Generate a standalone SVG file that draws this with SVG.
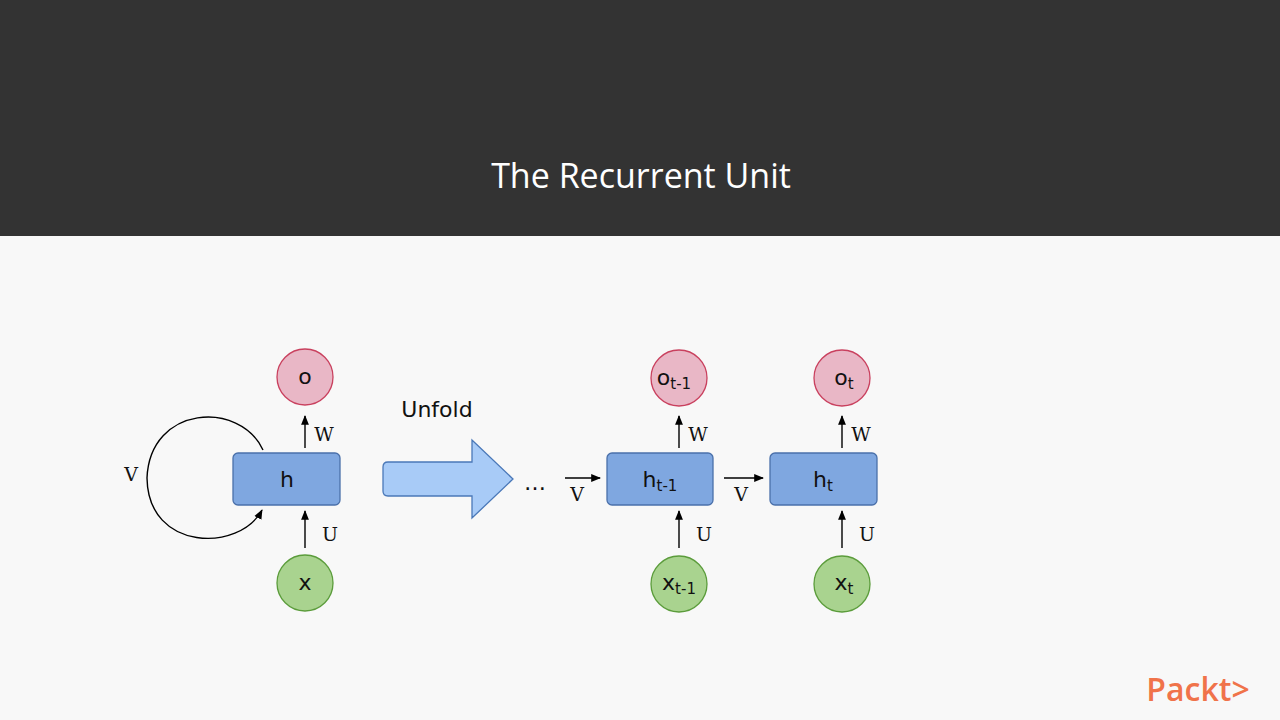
<svg xmlns="http://www.w3.org/2000/svg" width="1280" height="720" viewBox="0 0 1280 720">
<defs>
<marker id="ah" viewBox="0 0 10 10" refX="9" refY="5" markerWidth="7" markerHeight="7" orient="auto"><path d="M0,1 L10,5 L0,9 z" fill="#000"/></marker>
<style>
.o{fill:#e9b7c6;stroke:#c9405e;stroke-width:1.3}
.x{fill:#a9d38f;stroke:#5b9c3b;stroke-width:1.3}
.h{fill:#7fa7e0;stroke:#4a70aa;stroke-width:1.3}
.t{font-family:"DejaVu Sans",sans-serif;font-size:22px;fill:#111;text-anchor:middle}
.s{font-size:15px}
.l{font-family:"DejaVu Serif",serif;font-size:19px;fill:#111;text-anchor:middle}
.c{stroke:#000;stroke-width:1.4;fill:none;marker-end:url(#ah)}
</style>
</defs>
<rect width="1280" height="720" fill="#f8f8f8"/>
<rect width="1280" height="236" fill="#333333"/>
<text x="641" y="188" font-family="'Open Sans',sans-serif" font-size="34" fill="#fff" text-anchor="middle">The Recurrent Unit</text>
<g id="connectors">
<line class="c" x1="305" y1="448" x2="305" y2="416"/>
<line class="c" x1="305" y1="548" x2="305" y2="511"/>
<path class="c" d="M263,450 C240,400 150,405 147,478 C148,552 240,552 262,510"/>
<line class="c" x1="679" y1="448" x2="679" y2="416"/>
<line class="c" x1="679" y1="548" x2="679" y2="511"/>
<line class="c" x1="842" y1="448" x2="842" y2="416"/>
<line class="c" x1="842" y1="548" x2="842" y2="511"/>
<line class="c" x1="565" y1="478" x2="600" y2="478"/>
<line class="c" x1="724" y1="478" x2="763" y2="478"/>
<text class="l" x="324" y="441">W</text>
<text class="l" x="330" y="541">U</text>
<text class="l" x="131" y="481">V</text>
<text class="l" x="698" y="441">W</text>
<text class="l" x="704" y="541">U</text>
<text class="l" x="861" y="441">W</text>
<text class="l" x="867" y="541">U</text>
<text class="l" x="577" y="501">V</text>
<text class="l" x="741" y="501">V</text>
</g>
<g id="o"><circle class="o" cx="305" cy="377" r="28"/><text class="t" x="305" y="384">o</text></g>
<g id="h"><rect class="h" x="233" y="453" width="107" height="52" rx="5"/><text class="t" x="287" y="487">h</text></g>
<g id="x"><circle class="x" cx="305" cy="583" r="28"/><text class="t" x="305" y="590">x</text></g>
<g id="unfold">
<path d="M388,462 H472 V440 L513,479 L472,518 V496 H388 Q383,496 383,491 V467 Q383,462 388,462 Z" fill="#a8cbf7" stroke="#4a78b8" stroke-width="1.3"/>
<text class="t" x="437" y="417">Unfold</text>
</g>
<text class="t" x="535" y="490">…</text>
<g id="o1"><circle class="o" cx="679" cy="378" r="28"/><text class="t" x="674" y="385">o<tspan class="s" dy="4">t-1</tspan></text></g>
<g id="h1"><rect class="h" x="607" y="453" width="106" height="52" rx="5"/><text class="t" x="660" y="487">h<tspan class="s" dy="4">t-1</tspan></text></g>
<g id="x1"><circle class="x" cx="679" cy="584" r="28"/><text class="t" x="679" y="590">x<tspan class="s" dy="4">t-1</tspan></text></g>
<g id="o2"><circle class="o" cx="842" cy="378" r="28"/><text class="t" x="844" y="385">o<tspan class="s" dy="4">t</tspan></text></g>
<g id="h2"><rect class="h" x="770" y="453" width="107" height="52" rx="5"/><text class="t" x="823" y="487">h<tspan class="s" dy="4">t</tspan></text></g>
<g id="x2"><circle class="x" cx="842" cy="584" r="28"/><text class="t" x="844" y="590">x<tspan class="s" dy="4">t</tspan></text></g>
<text x="1198" y="701" font-family="'Open Sans',sans-serif" font-size="32" font-weight="600" fill="#f0734a" text-anchor="middle">Packt&gt;</text>
</svg>
